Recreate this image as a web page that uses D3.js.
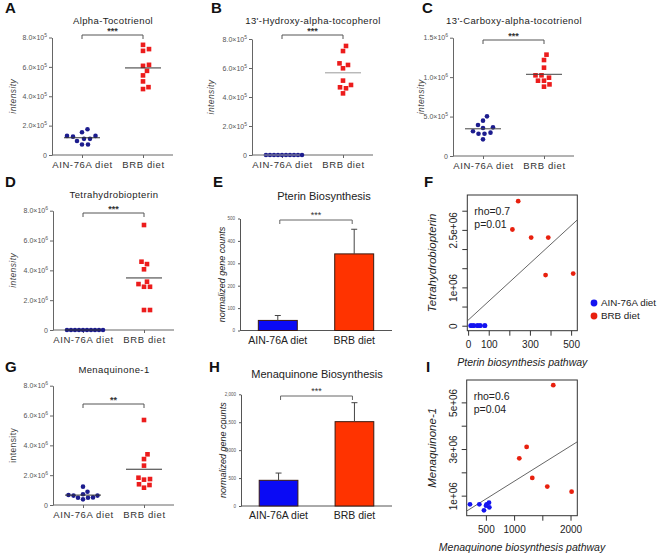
<!DOCTYPE html>
<html>
<head>
<meta charset="utf-8">
<script src="https://cdn.jsdelivr.net/npm/d3@7"></script>
<style>
  body { margin: 0; background: #fff; }
  svg { display: block; font-family: "Liberation Sans", Arial, sans-serif; }
</style>
</head>
<body>
<div id="chart"></div>
<script>
// ---- data ----
const diets = ["AIN-76A diet", "BRB diet"];

const tocotrienolAIN = [1.30e5, 1.10e5, 0.95e5, 1.55e5, 1.10e5, 1.75e5, 1.25e5, 1.30e5, 0.72e5, 0.72e5];
const tocotrienolBRB = [7.50e5, 7.21e5, 7.09e5, 6.14e5, 6.07e5, 5.73e5, 5.42e5, 5.01e5, 4.49e5, 4.62e5];
const hydroxyAIN = [0, 0, 0, 0, 0, 0, 0, 0, 0, 0];
const hydroxyBRB = [7.52e5, 7.17e5, 6.21e5, 6.32e5, 5.98e5, 5.13e5, 4.83e5, 4.67e5, 4.60e5, 4.25e5];
const carboxyAIN = [5.03e5, 4.48e5, 3.93e5, 3.63e5, 3.55e5, 3.13e5, 2.83e5, 2.83e5, 2.96e5, 2.11e5];
const carboxyBRB = [12.85e5, 12.17e5, 11.20e5, 10.23e5, 10.23e5, 9.55e5, 9.55e5, 9.93e5, 9.08e5, 8.79e5];
const bh4AIN = [0, 0, 0, 0, 0, 0, 0, 0, 0, 0];
const bh4BRB = [7.04e6, 4.58e6, 4.42e6, 4.07e6, 3.24e6, 2.90e6, 2.90e6, 3.08e6, 1.34e6, 1.34e6];
const mk1AIN = [0.67e6, 0.63e6, 0.49e6, 0.38e6, 0.49e6, 0.51e6, 0.63e6, 0.72e6, 0.89e6, 1.23e6];
const mk1BRB = [5.70e6, 3.40e6, 3.08e6, 2.64e6, 1.74e6, 1.70e6, 1.83e6, 1.39e6, 1.34e6, 1.16e6];

const ticks8e5 = [0, 2e5, 4e5, 6e5, 8e5];
const ticks15e6 = [0, 5e5, 1e6, 1.5e6];
const ticks8e6 = [0, 2e6, 4e6, 6e6, 8e6];

// bar panels: mean and upper error
const pterinMean = [45, 342];
const pterinErr = [22, 110];
const pterinTicks = [0, 100, 200, 300, 400, 500];
const menaqMean = [460, 1510];
const menaqErr = [130, 340];
const menaqTicks = [0, 500, 1000, 1500, 2000];

// scatter panels
const pterinPathAIN = [12, 16, 25, 28, 44, 47, 57, 60, 80, 82];
const bh4ScatterAIN = [0, 0, 0, 0, 0, 0, 0, 0, 0, 0];
const pterinPathBRB = [243, 215, 306, 389, 376, 510];
const bh4ScatterBRB = [3.25e6, 2.51e6, 2.30e6, 2.30e6, 1.32e6, 1.36e6];
const pterinFit = { intercept: 1.45e5, slope: 4935 };
const pterinStats = ["rho=0.7", "p=0.01"];
const fXTicks = [0, 100, 200, 300, 400, 500];
const fXLabels = ["0", "100", "", "300", "", "500"];
const fYTicks = [0, 5e5, 1e6, 1.5e6, 2e6, 2.5e6, 3e6];
const fYLabels = ["0", "", "1e+06", "", "", "2.5e+06", ""];

const menaqPathAIN = [218, 384, 466, 514, 555, 561, 502];
const mk1ScatterAIN = [0.63e6, 0.63e6, 0.37e6, 0.63e6, 0.70e6, 0.50e6, 0.57e6];
const menaqPathBRB = [1694, 1222, 1092, 1322, 1588, 2019];
const mk1ScatterBRB = [5.74e6, 3.09e6, 2.60e6, 1.76e6, 1.39e6, 1.17e6];
const menaqFit = { intercept: 0.98e5, slope: 1515 };
const menaqStats = ["rho=0.6", "p=0.04"];
const iXTicks = [500, 1000, 1500, 2000];
const iXLabels = ["500", "1000", "", "2000"];
const iYTicks = [1e6, 2e6, 3e6, 4e6, 5e6];
const iYLabels = ["1e+06", "", "3e+06", "", "5e+06"];

// ---- drawing ----
const svg = d3.select("#chart").append("svg").attr("width", 660).attr("height", 554);

const dotBlue = "#1c1c8e", dotRed = "#ec1c1c";
const barBlue = "#0a0af5", barRed = "#ff3300";
const rBlue = "#1414f0", rRed = "#e8200e";

function beeswarm(values, cx, y, d) {
  const placed = [];
  values.map((v, i) => ({ v, i }))
    .sort((a, b) => a.v - b.v)
    .forEach(p => {
      const py = y(p.v);
      for (let k = 0; k < 200; k++) {
        const off = (k % 2 ? 1 : -1) * Math.ceil(k / 2) * 0.5;
        const px = cx + off;
        if (placed.every(q => Math.hypot(q.x - px, q.y - py) >= d)) {
          placed.push({ v: p.v, x: px, y: py });
          break;
        }
      }
    });
  return placed;
}

function drawDotPanel(p) {
  const g = svg.append("g").attr("class", "dot-panel");
  const y = d3.scaleLinear().domain([0, p.yMax]).range([p.y0, p.yTop]);
  const x = d3.scalePoint().domain(diets).range([p.ax + 30, p.ax + 91]);

  const yAxis = g.append("g")
    .attr("transform", `translate(${p.ax},0)`)
    .call(d3.axisLeft(y).tickValues(p.ticks).tickSize(3).tickSizeOuter(0));
  yAxis.select(".domain").attr("stroke", "#666");
  yAxis.selectAll(".tick line").attr("stroke", "#666");
  yAxis.selectAll(".tick text")
    .attr("x", -5)
    .attr("font-size", 7)
    .attr("font-family", "Liberation Sans Narrow, Liberation Sans, Arial")
    .attr("fill", "#555")
    .each(function (d) {
      const t = d3.select(this).text(null);
      if (d === 0) { t.text("0"); return; }
      const e = Math.floor(Math.log10(d) + 1e-9);
      t.append("tspan").text((d / 10 ** e).toFixed(1) + "×10");
      t.append("tspan").attr("dy", -3).attr("font-size", 5).text(e);
    });

  g.append("line")
    .attr("x1", p.ax).attr("x2", p.ax + 121)
    .attr("y1", p.y0).attr("y2", p.y0)
    .attr("stroke", "#666");
  const xAxis = g.append("g")
    .attr("transform", `translate(0,${p.y0})`)
    .call(d3.axisBottom(x).tickSize(3).tickSizeOuter(0));
  xAxis.select(".domain").remove();
  xAxis.selectAll(".tick line").attr("stroke", "#666");
  xAxis.selectAll(".tick text")
    .attr("y", 6)
    .attr("font-size", 9.5)
    .attr("font-family", "Liberation Sans Narrow, Liberation Sans, Arial")
    .attr("letter-spacing", 0.6)
    .attr("fill", "#333");

  g.append("text")
    .attr("x", p.ax + 61).attr("y", p.titleY)
    .attr("text-anchor", "middle")
    .attr("font-size", 9.5)
    .attr("font-family", "Liberation Sans Narrow, Liberation Sans, Arial")
    .attr("letter-spacing", 0.4)
    .attr("fill", "#222")
    .text(p.title);

  g.append("text")
    .attr("transform", `translate(${p.labelX},${(p.y0 + p.yTop) / 2}) rotate(-90)`)
    .attr("text-anchor", "middle")
    .attr("font-size", 8.5)
    .attr("font-style", p.italic ? "italic" : "normal")
    .attr("letter-spacing", 0.4)
    .attr("fill", "#444")
    .text("intensity");

  // significance bracket
  const x1 = x(diets[0]), x2 = x(diets[1]);
  g.append("path")
    .attr("d", `M${x1},${p.bracketY + 4}V${p.bracketY}H${x2}V${p.bracketY + 4}`)
    .attr("fill", "none").attr("stroke", "#555");
  g.append("text")
    .attr("x", (x1 + x2) / 2).attr("y", p.bracketY - 1.5)
    .attr("text-anchor", "middle")
    .attr("font-size", 9).attr("font-weight", "bold").attr("fill", "#333")
    .text(p.stars);

  // points
  const ain = beeswarm(p.ain, x(diets[0]), y, p.gapAIN);
  const brb = beeswarm(p.brb, x(diets[1]), y, 5.8);
  g.selectAll(".ain").data(ain).join("circle")
    .attr("class", "ain")
    .attr("cx", d => d.x).attr("cy", d => d.y).attr("r", 2.3)
    .attr("fill", dotBlue);
  g.selectAll(".brb").data(brb).join("rect")
    .attr("class", "brb")
    .attr("x", d => d.x - 2.3).attr("y", d => d.y - 2.3)
    .attr("width", 4.6).attr("height", 4.6)
    .attr("fill", dotRed);

  // mean lines
  [[p.ain, diets[0]], [p.brb, diets[1]]].forEach(([vals, cat]) => {
    const m = d3.mean(vals);
    g.append("line")
      .attr("x1", x(cat) - 18).attr("x2", x(cat) + 18)
      .attr("y1", y(m)).attr("y2", y(m))
      .attr("stroke", p.lineColor).attr("stroke-width", 1);
  });
}

function drawBarPanel(p) {
  const g = svg.append("g").attr("class", "bar-panel");
  const y = d3.scaleLinear().domain([0, p.yMax]).range([p.y0, p.yTop]);
  const x = d3.scaleBand().domain(diets).range([p.ax, p.xEnd]).paddingInner(0.49).paddingOuter(0.24);

  const yAxis = g.append("g")
    .attr("transform", `translate(${p.ax},0)`)
    .call(d3.axisLeft(y).tickValues(p.ticks).tickSize(2).tickSizeOuter(0));
  yAxis.select(".domain").attr("stroke", "#555");
  yAxis.selectAll(".tick line").attr("stroke", "#555");
  yAxis.selectAll(".tick text").attr("x", -5).attr("font-size", 4.5).attr("fill", "#555");

  g.append("line")
    .attr("x1", p.ax).attr("x2", p.xEnd)
    .attr("y1", p.y0).attr("y2", p.y0)
    .attr("stroke", "#555");

  const cols = [barBlue, barRed];
  g.selectAll(".bar").data(diets).join("rect")
    .attr("class", "bar")
    .attr("x", d => x(d)).attr("width", x.bandwidth())
    .attr("y", (d, i) => y(p.means[i]))
    .attr("height", (d, i) => p.y0 - y(p.means[i]))
    .attr("fill", (d, i) => cols[i])
    .attr("stroke", "#3a1a10").attr("stroke-width", 1);

  g.selectAll(".err").data(diets).join("path")
    .attr("class", "err")
    .attr("d", (d, i) => {
      const cx = x(d) + x.bandwidth() / 2;
      const top = y(p.means[i] + p.errs[i]);
      return `M${cx},${y(p.means[i])}V${top}M${cx - 3},${top}H${cx + 3}`;
    })
    .attr("fill", "none").attr("stroke", "#444");

  g.selectAll(".cat").data(diets).join("text")
    .attr("class", "cat")
    .attr("x", d => x(d) + x.bandwidth() / 2).attr("y", p.y0 + 13)
    .attr("text-anchor", "middle")
    .attr("font-size", 10.5).attr("fill", "#222")
    .text(d => d);

  g.append("text")
    .attr("x", p.titleX).attr("y", p.titleY)
    .attr("text-anchor", "middle")
    .attr("font-size", 11).attr("fill", "#222")
    .text(p.title);

  g.append("text")
    .attr("transform", `translate(${p.ax - 15},${(p.y0 + p.yTop) / 2}) rotate(-90)`)
    .attr("text-anchor", "middle")
    .attr("font-size", 9).attr("font-style", "italic").attr("fill", "#222")
    .text("normalized gene counts");

  const x1 = x(diets[0]) + x.bandwidth() / 2 + 2, x2 = x(diets[1]) + x.bandwidth() / 2 - 2;
  g.append("path")
    .attr("d", `M${x1},${p.bracketY + 4}V${p.bracketY}H${x2}V${p.bracketY + 4}`)
    .attr("fill", "none").attr("stroke", "#666");
  g.append("text")
    .attr("x", (x1 + x2) / 2).attr("y", p.bracketY - 2)
    .attr("text-anchor", "middle")
    .attr("font-size", 9).attr("fill", "#333")
    .text(p.stars);
}

function drawScatter(p) {
  const g = svg.append("g").attr("class", "scatter-panel");
  const x = d3.scaleLinear().domain(p.xDomain).range([p.left, p.right]);
  const y = d3.scaleLinear().domain(p.yDomain).range([p.bottom, p.top]);

  const xAxis = g.append("g")
    .attr("transform", `translate(0,${p.bottom})`)
    .call(d3.axisBottom(x).tickValues(p.xTicks).tickFormat((d, i) => p.xLabels[i]).tickSize(5).tickSizeOuter(0));
  xAxis.select(".domain").remove();
  xAxis.selectAll(".tick line").attr("stroke", "#333");
  xAxis.selectAll(".tick text").attr("y", 17).attr("dy", 0).attr("font-size", 10).attr("fill", "#222");

  const yAxis = g.append("g")
    .attr("transform", `translate(${p.left},0)`)
    .call(d3.axisLeft(y).tickValues(p.yTicks).tickFormat((d, i) => p.yLabels[i]).tickSize(5).tickSizeOuter(0));
  yAxis.select(".domain").remove();
  yAxis.selectAll(".tick line").attr("stroke", "#333");
  yAxis.selectAll(".tick text")
    .attr("x", 0).attr("dy", 0)
    .attr("transform", "translate(-10,0) rotate(-90)")
    .attr("text-anchor", "middle")
    .attr("font-size", 10).attr("fill", "#222");

  g.append("rect")
    .attr("x", p.left).attr("y", p.top)
    .attr("width", p.right - p.left).attr("height", p.bottom - p.top)
    .attr("fill", "none").attr("stroke", "#333");

  const fitY = v => p.fit.intercept + p.fit.slope * v;
  g.append("line")
    .attr("x1", x(p.xDomain[0])).attr("y1", y(fitY(p.xDomain[0])))
    .attr("x2", x(p.xDomain[1])).attr("y2", y(fitY(p.xDomain[1])))
    .attr("stroke", "#555").attr("stroke-width", 0.9);

  g.selectAll(".pa").data(p.ainX).join("circle")
    .attr("class", "pa")
    .attr("cx", d => x(d)).attr("cy", (d, i) => y(p.ainY[i])).attr("r", 2.4)
    .attr("fill", rBlue);
  g.selectAll(".pb").data(p.brbX).join("circle")
    .attr("class", "pb")
    .attr("cx", d => x(d)).attr("cy", (d, i) => y(p.brbY[i])).attr("r", 2.4)
    .attr("fill", rRed);

  g.selectAll(".stat").data(p.stats).join("text")
    .attr("class", "stat")
    .attr("x", p.left + 7).attr("y", (d, i) => p.top + 20 + i * 12.5)
    .attr("font-size", 10.5).attr("fill", "#222")
    .text(d => d);

  g.append("text")
    .attr("x", (p.left + p.right) / 2).attr("y", p.bottom + 35)
    .attr("text-anchor", "middle")
    .attr("font-size", 10.5).attr("font-style", "italic").attr("fill", "#222")
    .text(p.xTitle);
  g.append("text")
    .attr("transform", `translate(${p.left - 31},${(p.top + p.bottom) / 2}) rotate(-90)`)
    .attr("text-anchor", "middle")
    .attr("font-size", 11.5).attr("font-style", "italic").attr("fill", "#222")
    .text(p.yTitle);
}

const dotPanels = [
  { title: "Alpha-Tocotrienol", ain: tocotrienolAIN, brb: tocotrienolBRB, ticks: ticks8e5, yMax: 8e5, gapAIN: 5.8,
    stars: "***", ax: 52, y0: 155, yTop: 37.5, titleY: 24, bracketY: 35, labelX: 16, lineColor: "#333", italic: true },
  { title: "13'-Hydroxy-alpha-tocopherol", ain: hydroxyAIN, brb: hydroxyBRB, ticks: ticks8e5, yMax: 8e5, gapAIN: 3.8,
    stars: "***", ax: 252, y0: 155, yTop: 39, titleY: 24, bracketY: 35, labelX: 214, lineColor: "#999", italic: true },
  { title: "13'-Carboxy-alpha-tocotrienol", ain: carboxyAIN, brb: carboxyBRB, ticks: ticks15e6, yMax: 1.5e6, gapAIN: 5.8,
    stars: "***", ax: 453, y0: 156, yTop: 37.7, titleY: 24, bracketY: 40, labelX: 424, lineColor: "#444", italic: true },
  { title: "Tetrahydrobiopterin", ain: bh4AIN, brb: bh4BRB, ticks: ticks8e6, yMax: 8e6, gapAIN: 3.9,
    stars: "***", ax: 53, y0: 330, yTop: 210.7, titleY: 198, bracketY: 213, labelX: 16, lineColor: "#333", italic: true },
  { title: "Menaquinone-1", ain: mk1AIN, brb: mk1BRB, ticks: ticks8e6, yMax: 8e6, gapAIN: 4.8,
    stars: "**", ax: 53, y0: 505, yTop: 385.7, titleY: 373, bracketY: 404, labelX: 16, lineColor: "#333", italic: false }
];
dotPanels.forEach(drawDotPanel);

drawBarPanel({ title: "Pterin Biosynthesis", means: pterinMean, errs: pterinErr, ticks: pterinTicks, yMax: 500,
  ax: 240, xEnd: 392, y0: 330.5, yTop: 218.5, titleX: 324, titleY: 200, bracketY: 220, stars: "***" });
drawBarPanel({ title: "Menaquinone Biosynthesis", means: menaqMean, errs: menaqErr, ticks: menaqTicks, yMax: 2000,
  ax: 241, xEnd: 392, y0: 506, yTop: 394.3, titleX: 317, titleY: 378, bracketY: 396, stars: "***" });

drawScatter({ ainX: pterinPathAIN, ainY: bh4ScatterAIN, brbX: pterinPathBRB, brbY: bh4ScatterBRB,
  fit: pterinFit, stats: pterinStats, xTicks: fXTicks, xLabels: fXLabels, yTicks: fYTicks, yLabels: fYLabels,
  xDomain: [-4, 530], yDomain: [-1.3e5, 3.41e6], left: 467.3, right: 577.3, top: 195, bottom: 330.7,
  xTitle: "Pterin biosynthesis pathway", yTitle: "Tetrahydrobiopterin" });
drawScatter({ ainX: menaqPathAIN, ainY: mk1ScatterAIN, brbX: menaqPathBRB, brbY: mk1ScatterBRB,
  fit: menaqFit, stats: menaqStats, xTicks: iXTicks, xLabels: iXLabels, yTicks: iYTicks, yLabels: iYLabels,
  xDomain: [160, 2120], yDomain: [0.14e6, 5.96e6], left: 466.7, right: 577.3, top: 380, bottom: 515.7,
  xTitle: "Menaquinone biosynthesis pathway", yTitle: "Menaquinone-1" });

// legend for the scatter panels
const legend = svg.append("g").attr("class", "legend").attr("transform", "translate(594,303)");
legend.selectAll("circle").data(diets).join("circle")
  .attr("cx", 0).attr("cy", (d, i) => i * 13).attr("r", 3.4)
  .attr("fill", (d, i) => [rBlue, rRed][i]);
legend.selectAll("text").data(diets).join("text")
  .attr("x", 7).attr("y", (d, i) => i * 13).attr("dy", "0.35em")
  .attr("font-size", 9.8).attr("fill", "#222")
  .text(d => d);

// panel letters
const letters = [["A", 5, 13], ["B", 211, 13], ["C", 422, 13], ["D", 5, 187], ["E", 213, 187],
  ["F", 424, 187], ["G", 5, 372], ["H", 209, 372], ["I", 426, 372]];
svg.selectAll(".letter").data(letters).join("text")
  .attr("class", "letter")
  .attr("x", d => d[1]).attr("y", d => d[2])
  .attr("font-size", 15).attr("font-weight", "bold").attr("fill", "#111")
  .text(d => d[0]);
</script>
</body>
</html>
